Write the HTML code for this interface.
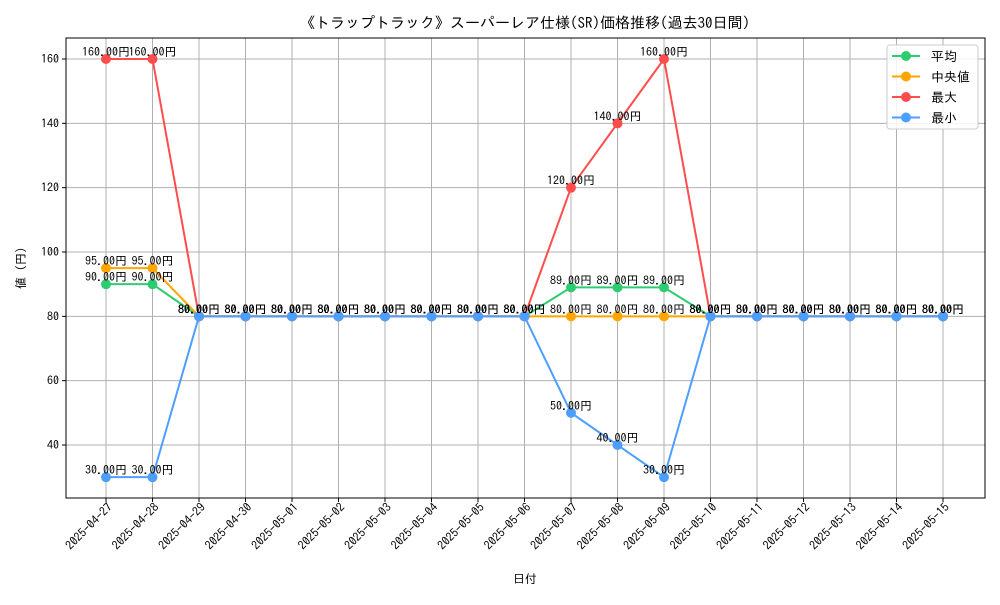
<!DOCTYPE html>
<html><head><meta charset="utf-8"><style>
body{margin:0;background:#fff}
svg{font-family:"IPAGothic","Noto Sans CJK JP",sans-serif}
</style></head><body>
<svg id="c" width="1000" height="600"></svg>
<script>
const dates=["2025-04-27","2025-04-28","2025-04-29","2025-04-30","2025-05-01","2025-05-02","2025-05-03","2025-05-04","2025-05-05","2025-05-06","2025-05-07","2025-05-08","2025-05-09","2025-05-10","2025-05-11","2025-05-12","2025-05-13","2025-05-14","2025-05-15"];
const avgVals=[90,90,80,80,80,80,80,80,80,80,89,89,89,80,80,80,80,80,80];
const medVals=[95,95,80,80,80,80,80,80,80,80,80,80,80,80,80,80,80,80,80];
const maxVals=[160,160,80,80,80,80,80,80,80,80,120,140,160,80,80,80,80,80,80];
const minVals=[30,30,80,80,80,80,80,80,80,80,50,40,30,80,80,80,80,80,80];
const yTicks=[40,60,80,100,120,140,160];
const seriesNames=["平均","中央値","最大","最小"];

const NS="http://www.w3.org/2000/svg";
const svg=document.getElementById('c');
const L=66,R=985,T=38,B=498;
const x=i=>106+i*(943-106)/(dates.length-1);
const y=v=>445-(v-40)*(386/120);
function el(t,a,p){const e=document.createElementNS(NS,t);for(const k in a)e.setAttribute(k,a[k]);(p||svg).appendChild(e);return e;}

yTicks.forEach(v=>{
  const g=el('line',{x1:L,x2:R,y1:y(v),y2:y(v),stroke:'#b0b0b0','stroke-width':1});
  
  
  el('line',{x1:L-4,x2:L,y1:y(v),y2:y(v),stroke:'#000'});
  const t=el('text',{x:L-7,y:y(v)+4,'text-anchor':'end','font-size':12});
  t.textContent=v;
  
  
});
dates.forEach((d,i)=>{
  const g=el('line',{x1:x(i),x2:x(i),y1:T,y2:B,stroke:'#b0b0b0','stroke-width':1});
  
  
  el('line',{x1:x(i),x2:x(i),y1:B,y2:B+4,stroke:'#000'});
  const t=el('text',{x:0,y:0,'text-anchor':'end','font-size':12,transform:`translate(${x(i)+7},${B+10}) rotate(-45)`});
  t.textContent=d;
  
  
});
const fr=el('rect',{x:L,y:T,width:R-L,height:B-T,fill:'none',stroke:'#000','stroke-width':1});



const series=[[avgVals,'#2ecc71','average'],[medVals,'#ffa500','median'],[maxVals,'#ff4d4d','max'],[minVals,'#4d9fff','min']];
series.forEach(([vals,col,nm])=>{
  const pl=el('polyline',{points:vals.map((v,i)=>x(i)+','+y(v)).join(' '),fill:'none',stroke:col,'stroke-width':2});
  
  
  vals.forEach((v,i)=>{
    const c=el('circle',{cx:x(i),cy:y(v),r:5,fill:col});
    
    
  });
});
series.forEach(([vals,col,nm])=>{
  vals.forEach((v,i)=>{
    const t=el('text',{x:x(i),y:y(v)-3,'text-anchor':'middle','font-size':12,fill:'#000'});
    t.textContent=v.toFixed(2)+'円';
    
    
  });
});

const title=el('text',{x:525,y:28,'text-anchor':'middle','font-size':15});
title.textContent='《トラップトラック》スーパーレア仕様(SR)価格推移(過去30日間)';


const xt=el('text',{x:525,y:583,'text-anchor':'middle','font-size':12});
xt.textContent='日付';


const yt=el('text',{x:0,y:0,'text-anchor':'middle','font-size':12,transform:'translate(25,268) rotate(-90)'});
yt.textContent='値 (円)';



const lg=el('g',{});


el('rect',{x:887,y:45,width:91,height:84,rx:3,fill:'#fff','fill-opacity':0.85,stroke:'#ccc'},lg);
series.forEach(([v,col,nm],k)=>{
  const yy=56+k*20.5;
  const g=el('g',{},lg);
  
  
  el('line',{x1:892,x2:920,y1:yy,y2:yy,stroke:col,'stroke-width':2},g);
  el('circle',{cx:906,cy:yy,r:5,fill:col},g);
  const t=el('text',{x:931,y:yy+5,'font-size':13},g);
  t.textContent=seriesNames[k];
});
</script>
</body></html>
